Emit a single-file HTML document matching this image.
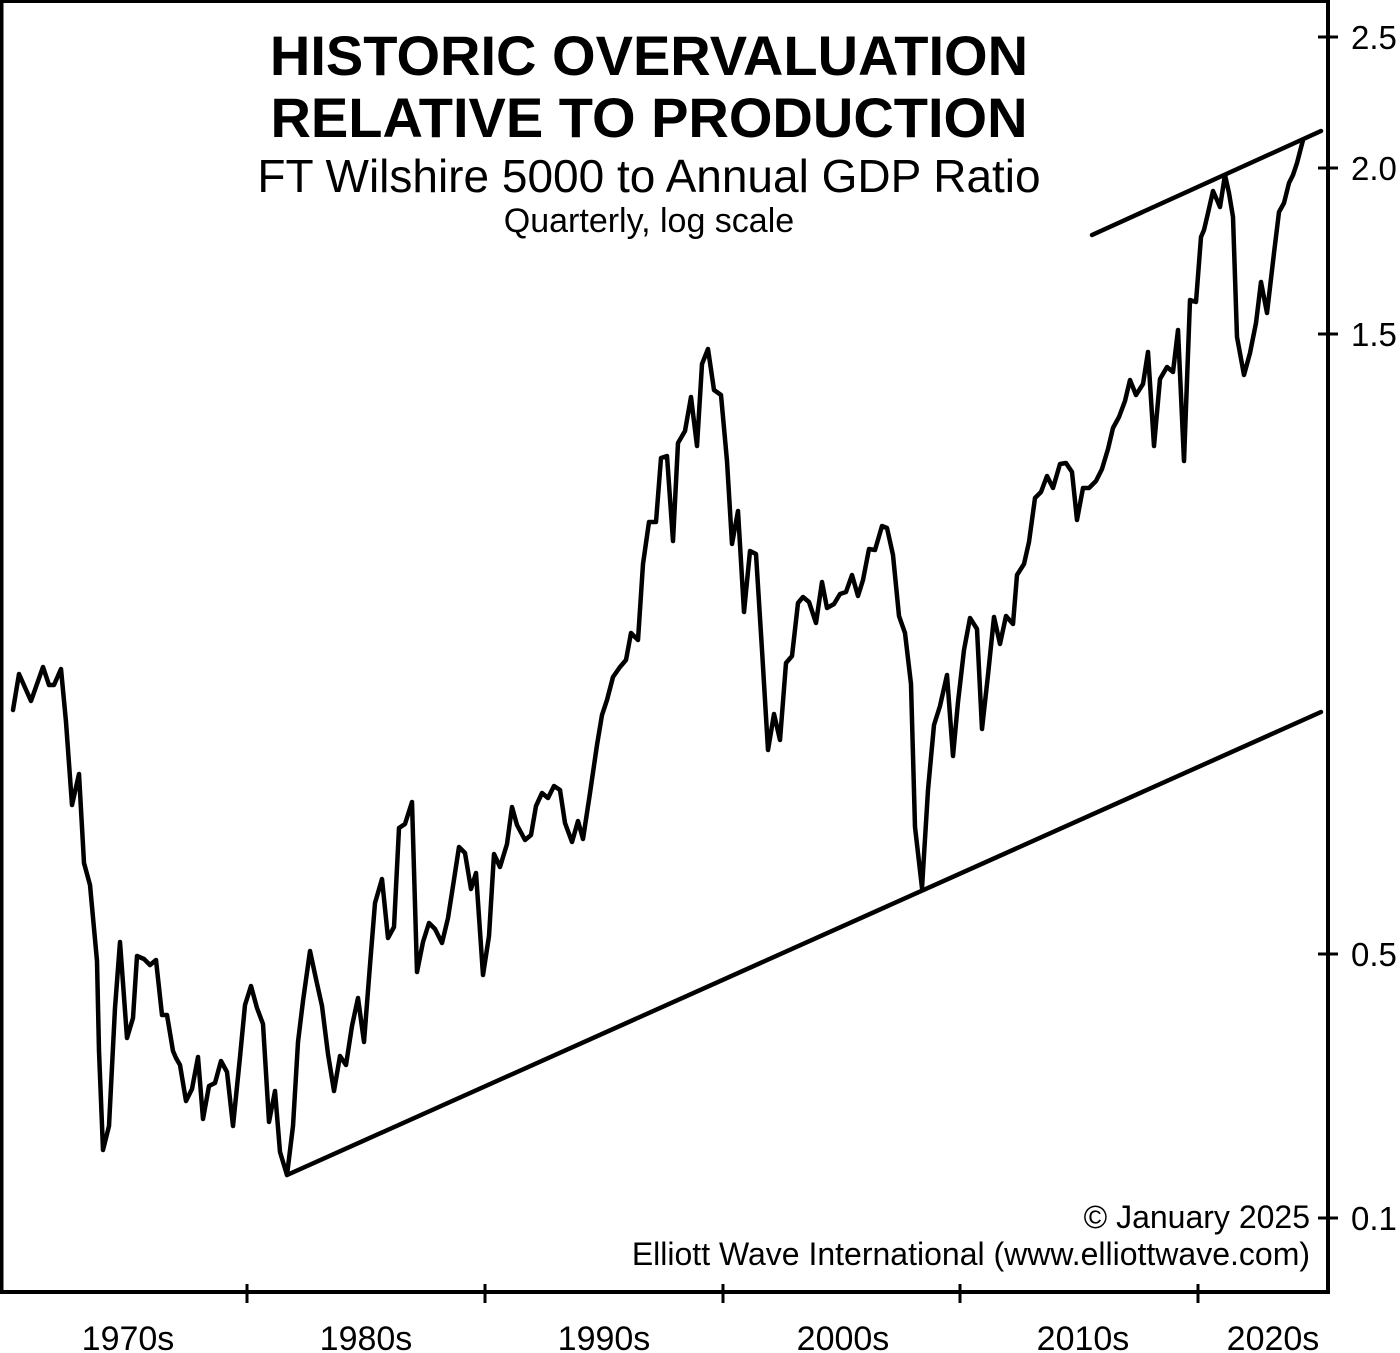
<!DOCTYPE html>
<html><head><meta charset="utf-8"><style>html,body{margin:0;padding:0;background:#fff}svg{display:block}</style></head>
<body>
<svg width="1400" height="1353" viewBox="0 0 1400 1353" xmlns="http://www.w3.org/2000/svg" font-family="Liberation Sans, Arial, sans-serif">
<rect x="0" y="0" width="1400" height="1353" fill="#fff"/>
<path d="M1.5 0 V1292 H1328 V0" fill="none" stroke="#000" stroke-width="4"/>
<line x1="0" y1="1.5" x2="1328" y2="1.5" stroke="#000" stroke-width="3"/>
<g stroke="#000" stroke-width="3">
<line x1="247" y1="1284" x2="247" y2="1303"/><line x1="485" y1="1284" x2="485" y2="1303"/>
<line x1="723" y1="1284" x2="723" y2="1303"/><line x1="960" y1="1284" x2="960" y2="1303"/>
<line x1="1198" y1="1284" x2="1198" y2="1303"/>
<line x1="1318" y1="37" x2="1338" y2="37"/><line x1="1318" y1="168" x2="1338" y2="168"/>
<line x1="1318" y1="334" x2="1338" y2="334"/><line x1="1318" y1="954" x2="1338" y2="954"/>
<line x1="1318" y1="1218" x2="1338" y2="1218"/>
</g>
<g font-size="33" fill="#000">
<text x="1351" y="49">2.5</text><text x="1351" y="180">2.0</text><text x="1351" y="346">1.5</text>
<text x="1351" y="966">0.5</text><text x="1351" y="1230">0.1</text>
</g>
<g font-size="34" fill="#000" text-anchor="middle">
<text x="128" y="1350">1970s</text><text x="366" y="1350">1980s</text><text x="604" y="1350">1990s</text>
<text x="843" y="1350">2000s</text><text x="1083" y="1350">2010s</text><text x="1273" y="1350">2020s</text>
</g>
<g text-anchor="middle" fill="#000">
<text x="649" y="75" font-size="56" font-weight="bold">HISTORIC OVERVALUATION</text>
<text x="649" y="137" font-size="56" font-weight="bold">RELATIVE TO PRODUCTION</text>
<text x="649" y="192" font-size="46">FT Wilshire 5000 to Annual GDP Ratio</text>
<text x="649" y="232" font-size="34">Quarterly, log scale</text>
</g>
<g text-anchor="end" font-size="32" fill="#000">
<text x="1310" y="1228">© January 2025</text>
<text x="1310" y="1265">Elliott Wave International (www.elliottwave.com)</text>
</g>
<g stroke="#000" stroke-width="4.5" fill="none" stroke-linejoin="round" stroke-linecap="round">
<line x1="287" y1="1175" x2="1321" y2="712"/>
<line x1="1092" y1="235" x2="1321" y2="131"/>
<polyline points="13,710 19,674 31,701 43,667 49,685 54,685 61,669 66,722 72,805 79,774 84,863 90,885 97,961 99,1051 103,1150 109,1126 115,1008 120,942 127,1038 133,1018 137,956 144,959 150,965 156,960 162,1015 167,1015 173,1051 176,1058 180,1065 186,1101 192,1089 198,1057 203,1119 209,1086 215,1083 221,1061 227,1072 233,1126 240,1057 245,1005 251,986 257,1008 263,1024 269,1122 275,1091 280,1152 287,1175 293,1126 298,1042 303,1001 310,951 316,979 322,1006 328,1054 334,1091 340,1056 346,1065 352,1026 358,998 364,1042 370,965 375,903 382,879 388,938 394,927 399,828 405,824 412,802 417,972 423,942 429,923 435,929 442,943 448,918 453,886 459,847 465,853 471,889 476,873 483,975 489,936 494,854 500,867 507,844 512,807 517,825 525,840 531,835 536,806 542,793 548,798 554,786 560,790 565,823 572,842 578,821 583,839 590,793 597,745 602,715 607,700 613,677 620,667 626,660 631,633 638,640 643,564 649,522 656,522 661,458 667,456 673,541 678,443 685,431 691,397 697,446 702,364 708,349 714,390 721,395 727,461 732,544 738,511 744,612 750,551 756,554 762,650 768,750 774,714 780,740 786,663 792,656 798,603 803,597 809,602 816,623 822,582 827,608 834,604 840,594 846,592 852,575 858,596 863,580 869,549 875,550 882,526 887,528 893,555 899,616 905,633 911,684 915,827 922,888 928,790 934,725 940,706 947,675 953,756 958,702 964,650 970,618 977,629 982,729 988,675 994,617 1000,644 1006,616 1013,624 1017,575 1024,564 1029,542 1035,498 1041,492 1047,476 1053,488 1060,464 1066,463 1072,472 1077,520 1083,488 1089,488 1096,481 1102,469 1108,449 1113,428 1119,417 1125,401 1130,380 1136,395 1143,384 1148,352 1154,446 1160,379 1167,367 1173,372 1178,330 1184,461 1190,300 1196,302 1201,237 1204,230 1208,213 1213,191 1217,200 1220,207 1225,175 1229,193 1233,217 1237,337 1244,375 1250,353 1256,323 1261,282 1267,313 1274,253 1279,212 1284,203 1289,183 1293,175 1297,163 1303,140"/>
</g>
</svg>
</body></html>
